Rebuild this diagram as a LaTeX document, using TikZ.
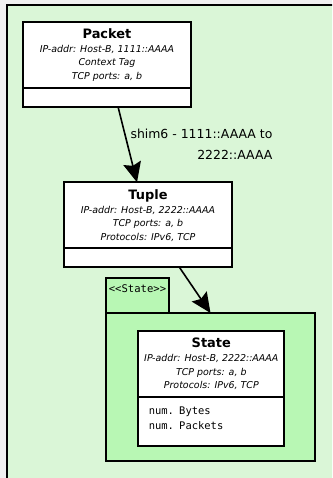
\documentclass[tikz,border=0pt]{standalone}
\usepackage{fontspec}
\setmainfont{DejaVu Sans}
\setmonofont{DejaVu Sans Mono}
\usetikzlibrary{positioning, arrows.meta}

\definecolor{outergray}{HTML}{F0F0F0}
\definecolor{framegreen}{HTML}{DAF6D7}
\definecolor{pkggreen}{HTML}{B8F7B4}

\newcommand{\classname}[1]{{\fontsize{13}{15}\selectfont\bfseries\upshape #1}\\[0.5pt]}

\tikzset{
    classhead/.style={draw, line width=1.8bp, fill=white, inner sep=0pt, outer sep=0pt,
        align=center, font=\fontsize{9.5}{13.5}\selectfont\itshape},
    classops/.style={draw, line width=1.8bp, fill=white, inner sep=0pt, outer sep=0pt},
    pkgpart/.style={draw, line width=1.8bp, fill=pkggreen, inner sep=0pt, outer sep=0pt},
    flow/.style={line width=1.6bp, -{Stealth[length=20bp, width=18bp, inset=3bp]}}
}

\begin{document}
\begin{tikzpicture}[x=1bp, y=-1bp]
        \useasboundingbox (0,0) rectangle (332,478);
        \clip (0,0) rectangle (332,478);
        \fill[outergray] (0,0) rectangle (332,478);
        \draw[fill=framegreen, line width=2bp] (7,5) rectangle (350,500);

        \node [classhead, minimum width=168bp, minimum height=65.7bp] (packet) at (107,54.85)
            {\classname{Packet}IP-addr: Host-B, 1111::AAAA\\Context Tag\\TCP ports: a, b};
        \node [classops, minimum width=168bp, minimum height=19bp, below=0pt of packet] (packetops) {};

        \node [classhead, minimum width=168bp, minimum height=66bp] (tuple) at (148,215.3)
            {\classname{Tuple}IP-addr: Host-B, 2222::AAAA\\TCP ports: a, b\\Protocols: IPv6, TCP};
        \node [classops, minimum width=168bp, minimum height=18.4bp, below=0pt of tuple] (tupleops) {};

        \node [pkgpart, anchor=south west, minimum width=63.6bp, text height=14.3bp, text depth=20.4bp,
            font=\fontsize{10.6}{12}\selectfont\ttfamily] (pkgtab) at (105.7,313) {<<State>>};
        \node [pkgpart, anchor=north west, minimum width=209bp, minimum height=148bp] (pkg) at (106,313) {};

        \node [classhead, minimum width=146bp, minimum height=66.3bp] (state) at (211.3,364.15)
            {\classname{State}IP-addr: Host-B, 2222::AAAA\\TCP ports: a, b\\Protocols: IPv6, TCP};
        \node [classops, text width=125bp, inner xsep=10.5bp, text height=17bp, text depth=31.7bp,
            align=left, font=\fontsize{10.5}{15.5}\selectfont\ttfamily, below=0pt of state] (stateops)
            {num. Bytes\\num. Packets};

        \node [align=right, font=\fontsize{12.5}{21}\selectfont] (shimlabel) at (201.5,144)
            {shim6 - 1111::AAAA to\\2222::AAAA};

        \draw[flow] ([xshift=11bp]packetops.south) -- ([xshift=-11bp]tuple.north);
        \draw[flow] ([xshift=31bp]tupleops.south) -- (pkg.north);
    \end{tikzpicture}
\end{document}
